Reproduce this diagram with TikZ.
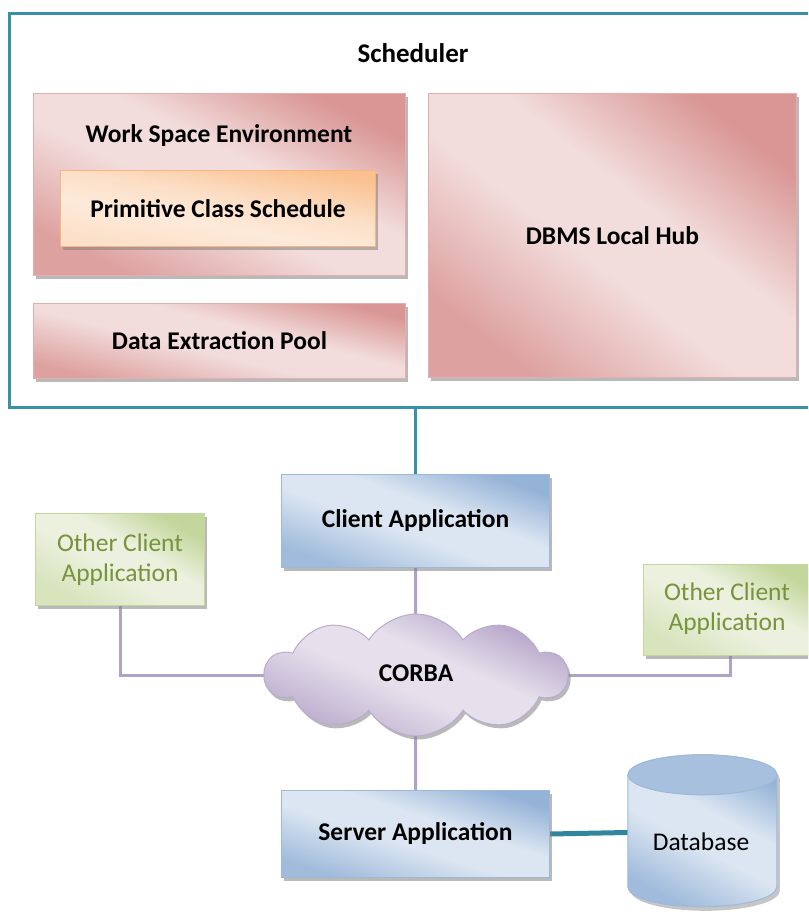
\documentclass[tikz,border=0pt]{standalone}
\usepackage{fontspec}
\setmainfont{Carlito}
\usetikzlibrary{shapes.symbols,shadows,backgrounds}

\definecolor{tealline}{HTML}{3A8FA9}
\definecolor{tealdark}{HTML}{31859C}
\definecolor{redDark}{HTML}{D99694}
\definecolor{redLight}{HTML}{F2DDDC}
\definecolor{redEdge}{HTML}{E2AFAE}
\definecolor{orDark}{HTML}{FAC08F}
\definecolor{orLight}{HTML}{FDEADA}
\definecolor{orEdge}{HTML}{F8B680}
\definecolor{blDark}{HTML}{95B3D7}
\definecolor{blLight}{HTML}{DCE6F2}
\definecolor{blEdge}{HTML}{9DB9DA}
\definecolor{grDark}{HTML}{C3D69B}
\definecolor{grLight}{HTML}{EBF1DE}
\definecolor{grEdge}{HTML}{C3D69B}
\definecolor{grText}{HTML}{77933C}
\definecolor{puDark}{HTML}{B3A2C7}
\definecolor{puLight}{HTML}{E6E0EC}

% diagonal "dark - light - dark" fills in the Office style
\pgfdeclarehorizontalshading{redsh}{100bp}{color(0bp)=(redDark!85!redLight); color(25bp)=(redDark!85!redLight); color(45bp)=(redLight); color(57bp)=(redLight); color(75bp)=(redDark); color(100bp)=(redDark)}
\pgfdeclarehorizontalshading{orsh}{100bp}{color(0bp)=(orLight!75!orDark); color(25bp)=(orLight!75!orDark); color(42bp)=(orLight); color(55bp)=(orLight!75!orDark); color(75bp)=(orDark); color(100bp)=(orDark)}
\pgfdeclarehorizontalshading{blsh}{100bp}{color(0bp)=(blDark!85!blLight); color(25bp)=(blDark!85!blLight); color(45bp)=(blLight); color(57bp)=(blLight); color(75bp)=(blDark); color(100bp)=(blDark)}
\pgfdeclarehorizontalshading{grsh}{100bp}{color(0bp)=(grDark!50!grLight); color(25bp)=(grDark!50!grLight); color(45bp)=(grLight); color(57bp)=(grLight); color(75bp)=(grDark); color(100bp)=(grDark)}
\pgfdeclarehorizontalshading{push}{100bp}{color(0bp)=(puDark!85!puLight); color(25bp)=(puDark!85!puLight); color(45bp)=(puLight); color(57bp)=(puLight); color(75bp)=(puDark); color(100bp)=(puDark)}

\tikzset{
  x=1pt, y=-1pt,
  lbl/.style={font=\fontsize{25.5}{30}\selectfont\bfseries, text=black},
  plain/.style={font=\fontsize{25.5}{30}\selectfont},
  softshadow/.style={drop shadow={shadow xshift=2.5pt, shadow yshift=-3.5pt, fill=black!50, opacity=0.55}},
  boxbase/.style={line width=1pt, softshadow, anchor=north west, inner sep=0pt},
  redbox/.style={boxbase, draw=redEdge, shading=redsh},
  orbox/.style={boxbase, draw=orEdge, shading=orsh},
  bluebox/.style={boxbase, draw=blEdge, shading=blsh},
  greenbox/.style={boxbase, draw=grEdge, shading=grsh},
  purpleline/.style={draw=puDark, line width=3pt},
  tealconn/.style={draw=tealline, line width=3pt},
}

\begin{document}
\begin{tikzpicture}
\useasboundingbox (0,0) rectangle (808,912);
\clip (0,0) rectangle (808,912);

% Scheduler container
\node[draw=tealline, line width=3pt, fill=white, anchor=north west, minimum width=822pt, minimum height=394pt, inner sep=0pt] (sched) at (8,12) {};
\node[lbl, font=\fontsize{27}{32}\selectfont\bfseries] (schedtxt) at (413,53) {Scheduler};

% inner blocks of the scheduler
\node[redbox, shading angle=64, minimum width=372pt, minimum height=182pt] (wse) at (33,93) {};
\node[lbl] (wsetxt) at (219,136) {Work Space Environment};
\node[orbox, shading angle=80, minimum width=315pt, minimum height=76pt] (pcs) at (60,170) {};
\node[lbl] (pcstxt) at (pcs.center) {Primitive Class Schedule};
\node[redbox, shading angle=76, minimum width=372pt, minimum height=75pt] (dep) at (33,303) {};
\node[lbl] (deptxt) at (dep.center) {Data Extraction Pool};
\node[redbox, shading angle=52, minimum width=368pt, minimum height=284pt] (dbms) at (428,93) {};
\node[lbl] (dbmstxt) at (dbms.center) {DBMS Local Hub};

% applications
\node[bluebox, shading angle=70, minimum width=268pt, minimum height=93pt] (client) at (281,474) {};
\node[lbl] (clienttxt) at (client.center) {Client Application};
\node[greenbox, shading angle=60, minimum width=169pt, minimum height=92pt] (other1) at (35,513) {};
\node[plain, text=grText, align=center] (other1txt) at (other1.center) {Other Client\\Application};
\node[greenbox, shading angle=60, minimum width=173pt, minimum height=91pt] (other2) at (643,564) {};
\node[plain, text=grText, align=center] (other2txt) at (727,609) {Other Client\\Application};

% middleware cloud
\node[cloud, cloud puffs=10, cloud puff arc=115, aspect=2.6, draw=puDark!90!white, line width=1pt,
      shading=push, shading angle=66, softshadow,
      minimum width=302pt, minimum height=122pt, inner sep=0pt] (corba) at (416,675) {};
\node[lbl] (corbatxt) at (416,673) {CORBA};

% server side
\node[bluebox, shading angle=72, minimum width=268pt, minimum height=87pt] (server) at (281,790) {};
\node[lbl] (servertxt) at (server.center) {Server Application};

% database drum: frame node plus drawn body and lid
\node[minimum width=149pt, minimum height=152pt, inner sep=0pt] (db) at (702.5,831) {};
\fill[black!45, opacity=0.5] ([xshift=3pt, yshift=-4pt]db.north west) ++(0,20) -- ++(0,112)
   arc[start angle=180, end angle=360, x radius=74.5pt, y radius=20pt] -- ++(0,-112)
   arc[start angle=0, end angle=180, x radius=74.5pt, y radius=20pt] -- cycle;
\path[draw=blEdge, line width=1pt, shading=blsh, shading angle=62] (db.north west) ++(0,20) -- ++(0,112)
   arc[start angle=180, end angle=360, x radius=74.5pt, y radius=20pt] -- ++(0,-112)
   arc[start angle=0, end angle=180, x radius=74.5pt, y radius=20pt] -- cycle;
\path[draw=blEdge, line width=1pt, fill=blDark!75!blLight] (db.north) ++(0,20) ellipse[x radius=74.5pt, y radius=20pt];
\node[plain] (dbtxt) at (701,842) {Database};

% connectors, kept under the boxes
\begin{pgfonlayer}{background}
  \draw[tealconn] (client.north) -- (client.north |- sched.south);
  \draw[purpleline] (client.south) -- (corba.center);
  \draw[purpleline] (corba.center) -- (server.north);
  \draw[purpleline] (other1.south) |- (corba.center);
  \draw[purpleline] (corba.center) -| (other2.south);
  \draw[draw=tealdark, line width=5pt] (server.east) -- (db.center);
\end{pgfonlayer}
\end{tikzpicture}
\end{document}
